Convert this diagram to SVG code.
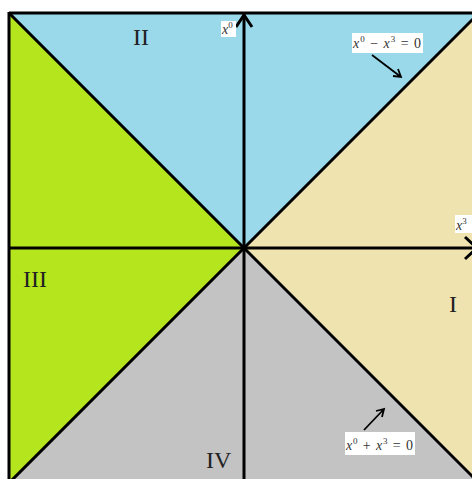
<svg xmlns="http://www.w3.org/2000/svg" width="472" height="479" viewBox="0 0 472 479">
<style>
.ln{stroke:#000;stroke-width:3;fill:none;stroke-linecap:butt}
.thin{stroke:#000;stroke-width:1.8;fill:none}
.rom{font-family:"Liberation Serif",serif;font-size:24px;fill:#222}
.m{font-family:"Liberation Serif",serif;font-size:14px;fill:#333}
.mi{font-style:italic}
.sup{font-size:9px}
.box{fill:#fff}
</style>
<rect width="472" height="479" fill="#fff"/>
<g id="region-II"><polygon points="9,13 479,13 244,248" fill="#99D9EA"/></g>
<g id="region-I"><polygon points="479,13 490,13 490,490 480,484 244,248" fill="#EFE4B0"/></g>
<g id="region-IV"><polygon points="244,248 480,484 8,484" fill="#C3C3C3"/></g>
<g id="region-III"><polygon points="9,13 244,248 9,483" fill="#B5E61D"/></g>
<g id="connectors">
<path class="ln" d="M9,13 H490 M9,12 V490"/>
<path class="ln" d="M9,13 L482,486 M479,13 L6,486"/>
<path class="ln" d="M244,14 V490 M9,248 H478"/>
<path class="ln" d="M236,27 L244,15 L252,27"/>
<path class="ln" d="M465,237 L477,248 L465,259"/>
<path class="thin" d="M372,55 L401,77 M393,76 L401,77 L398,69"/>
<path class="thin" d="M364,430 L384,409 M376,411 L384,409 L382,417"/>
</g>
<g id="label-II"><text class="rom" x="133" y="45">II</text></g>
<g id="label-III"><text class="rom" x="23" y="287">III</text></g>
<g id="label-I"><text class="rom" x="449" y="312">I</text></g>
<g id="label-IV"><text class="rom" x="206" y="468">IV</text></g>
<g id="label-x0">
<rect class="box" x="221" y="21" width="15" height="16"/>
<text class="m" x="222" y="34"><tspan class="mi">x</tspan><tspan class="sup" dy="-6">0</tspan></text>
</g>
<g id="label-x3">
<rect class="box" x="455" y="215" width="20" height="18"/>
<text class="m" x="456" y="230"><tspan class="mi">x</tspan><tspan class="sup" dy="-6">3</tspan></text>
</g>
<g id="label-minus">
<rect class="box" x="352" y="33" width="71" height="20"/>
<text class="m" x="353" y="48" textLength="68" lengthAdjust="spacing"><tspan class="mi">x</tspan><tspan class="sup" dy="-6">0</tspan><tspan dy="6"> − </tspan><tspan class="mi">x</tspan><tspan class="sup" dy="-6">3</tspan><tspan dy="6"> = 0</tspan></text>
</g>
<g id="label-plus">
<rect class="box" x="345" y="432" width="70" height="23"/>
<text class="m" x="346" y="450" textLength="67" lengthAdjust="spacing"><tspan class="mi">x</tspan><tspan class="sup" dy="-6">0</tspan><tspan dy="6"> + </tspan><tspan class="mi">x</tspan><tspan class="sup" dy="-6">3</tspan><tspan dy="6"> = 0</tspan></text>
</g>
</svg>
